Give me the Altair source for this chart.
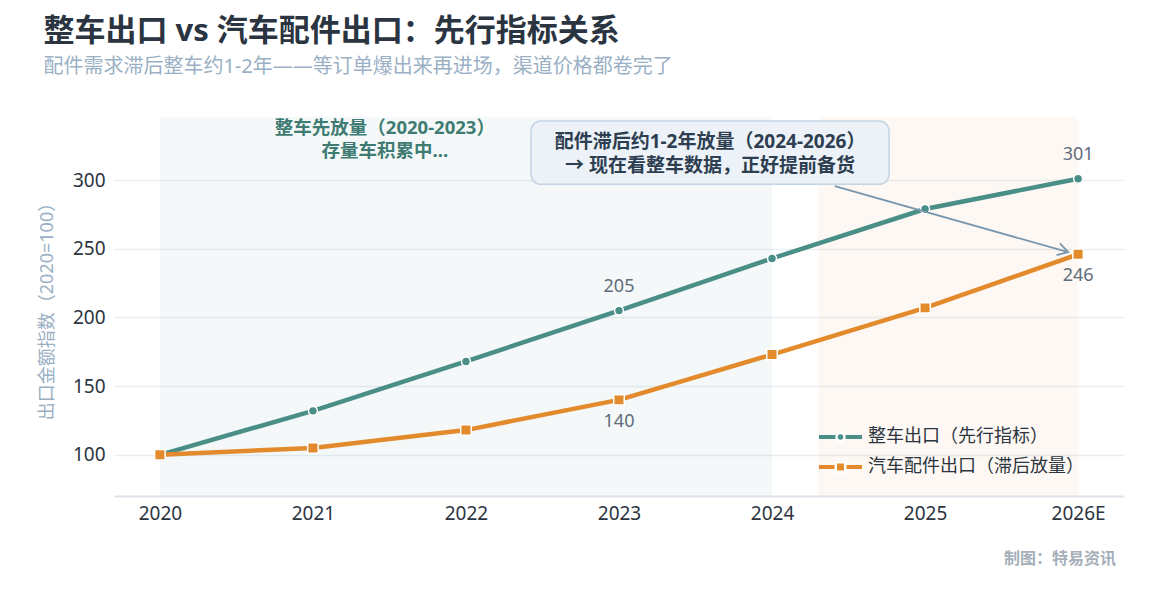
import altair as alt
import pandas as pd

LATIN = "Noto Sans, Noto Sans CJK SC"

# ---- data ----
years = ["2020", "2021", "2022", "2023", "2024", "2025", "2026E"]
vehicle = [100, 132, 168, 205, 243, 279, 301]
parts = [100, 105, 118, 140, 173, 207, 246]
series = ["整车出口（先行指标）", "汽车配件出口（滞后放量）"]
colors = ["#4a8f87", "#e38b2c"]
marker_shapes = ["circle", "square"]
label_idx = [3, 6]

band_start = [0, 4.3]
band_end = [4, 6]
band_color = ["#4a8f87", "#e38b2c"]

note1_text = ["整车先放量（2020-2023）", "存量车积累中..."]
note1_pos = [1.47, 338]
box_x = [2.425, 4.765]
box_y = [297, 343]
note2_text = ["配件滞后约1-2年放量（2024-2026）", "→ 现在看整车数据，正好提前备货"]
note2_pos = [3.595, 328]
arrow_from = [4.41, 295.6]
arrow_to = [5.935, 247.6]
arrow_angle = 16

W, H = 1010, 379
X_DOMAIN = [-0.3, 6.3]
Y_DOMAIN = [70, 346]

xs = alt.Scale(domain=X_DOMAIN, nice=False, zero=False)
ys = alt.Scale(domain=Y_DOMAIN, nice=False, zero=False)

label_expr = "[" + ",".join("'%s'" % y for y in years) + "][datum.value]"

x_axis = alt.Axis(
    values=list(range(len(years))), labelExpr=label_expr, title=None, grid=False,
    ticks=False, domainColor="#dde3ea", domainWidth=2, labelFontSize=19,
    labelColor="#2c3440", labelFont=LATIN, labelPadding=8,
)
y_axis = alt.Axis(
    values=[100, 150, 200, 250, 300], title="出口金额指数（2020=100）",
    titleColor="#9aafc4", titleFontSize=18, titleFontWeight="normal", titleFont=LATIN,
    labelFontSize=19, labelColor="#2c3440", labelFont=LATIN, grid=True,
    gridColor="#e9eef3", gridWidth=1.5, domain=False, ticks=False,
    labelPadding=9, titlePadding=16,
)


def X(f):
    return alt.X(f, scale=xs, axis=x_axis)


def Y(f):
    return alt.Y(f, scale=ys, axis=y_axis)


rows = []
for i, y in enumerate(years):
    rows.append({"i": i, "year": y, "v": vehicle[i], "s": series[0]})
    rows.append({"i": i, "year": y, "v": parts[i], "s": series[1]})
df = pd.DataFrame(rows)
base = alt.Chart(df)

layers = []

# background bands
bands = pd.DataFrame({"s0": band_start, "e0": band_end, "c": band_color})
layers.append(
    alt.Chart(bands).mark_rect(opacity=0.06).encode(
        x=X("s0:Q"), x2="e0:Q", y=alt.value(0), y2=alt.value(H),
        color=alt.Color("c:N", scale=None),
    )
)

sizes = [80, 110]
for k, s in enumerate(series):
    sub = base.transform_filter(alt.datum.s == s)
    layers.append(
        sub.mark_line(strokeWidth=4.5, color=colors[k]).encode(x=X("i:Q"), y=Y("v:Q"))
    )
    layers.append(
        sub.mark_point(shape=marker_shapes[k], filled=True, size=sizes[k], color=colors[k],
                       stroke="white", strokeWidth=1.5, opacity=1).encode(x=X("i:Q"), y=Y("v:Q"))
    )

# value labels
lab = df[df["i"].isin(label_idx)].copy()
lab["txt"] = lab["v"].astype(str)
for k, s in enumerate(series):
    layers.append(
        alt.Chart(lab[lab["s"] == s]).mark_text(
            fontSize=18, color="#5f6d7c", font=LATIN, dy=-24 if k == 0 else 22
        ).encode(x=X("i:Q"), y=Y("v:Q"), text="txt:N")
    )

# annotation 1
layers.append(
    alt.Chart(pd.DataFrame({"x": [note1_pos[0]], "y": [note1_pos[1]], "t": ["\n".join(note1_text)]}))
    .mark_text(fontSize=18.5, fontWeight="bold", color="#3e7b73", font=LATIN,
               lineBreak="\n", lineHeight=23, baseline="middle")
    .encode(x=X("x:Q"), y=Y("y:Q"), text="t:N")
)

# callout box
layers.append(
    alt.Chart(pd.DataFrame({"x": [box_x[0]], "x2": [box_x[1]], "y": [box_y[0]], "y2": [box_y[1]]}))
    .mark_rect(cornerRadius=10, fill="#edf2f8", stroke="#c5d5e4", strokeWidth=1.5)
    .encode(x=X("x:Q"), x2="x2:Q", y=Y("y:Q"), y2="y2:Q")
)
layers.append(
    alt.Chart(pd.DataFrame({"x": [note2_pos[0]], "y": [note2_pos[1]], "t": ["\n".join(note2_text)]}))
    .mark_text(fontSize=19, fontWeight="bold", color="#2c3e50", font=LATIN,
               lineBreak="\n", lineHeight=24, baseline="middle")
    .encode(x=X("x:Q"), y=Y("y:Q"), text="t:N")
)

# arrow
arr = pd.DataFrame({"x": [arrow_from[0]], "y": [arrow_from[1]], "x2": [arrow_to[0]], "y2": [arrow_to[1]]})
layers.append(
    alt.Chart(arr).mark_rule(color="#7896ad", strokeWidth=1.8).encode(
        x=X("x:Q"), x2="x2:Q", y=Y("y:Q"), y2="y2:Q",
    )
)
layers.append(
    alt.Chart(arr).mark_point(shape="M-1,-0.6L0,0L-1,0.6", filled=False, size=420,
                              color="#7896ad", strokeWidth=1.8, angle=arrow_angle, opacity=1).encode(
        x=X("x2:Q"), y=Y("y2:Q"),
    )
)

# legend (drawn inside the plot, bottom right)
LEG_X, LEG_Y, LEG_DY, LEG_W = 705, 320, 30, 43
for k, s in enumerate(series):
    one = alt.Chart(pd.DataFrame({"s": [s]}))
    yy = LEG_Y + k * LEG_DY
    layers.append(
        one.mark_rule(strokeWidth=4, color=colors[k]).encode(
            x=alt.value(LEG_X), x2=alt.value(LEG_X + LEG_W), y=alt.value(yy)
        )
    )
    layers.append(
        one.mark_point(shape=marker_shapes[k], filled=True, size=sizes[k] * 0.8, color=colors[k],
                       stroke="white", strokeWidth=2.5, opacity=1).encode(
            x=alt.value(LEG_X + LEG_W / 2), y=alt.value(yy)
        )
    )
    layers.append(
        one.mark_text(fontSize=18, color="#2c3440", font=LATIN, align="left", baseline="middle").encode(
            x=alt.value(LEG_X + LEG_W + 6), y=alt.value(yy), text="s:N"
        )
    )

# credit
layers.append(
    alt.Chart(pd.DataFrame({"t": ["制图：特易资讯"]})).mark_text(
        fontSize=16, fontWeight="bold", color="#a5afb9", font=LATIN, align="right", baseline="middle"
    ).encode(x=alt.value(W - 8), y=alt.value(H + 63), text="t:N")
)

chart = alt.layer(*layers).properties(
    width=W, height=H,
    padding={"left": 30, "top": 8, "right": 5, "bottom": 5},
    title=alt.Title(
        text="整车出口 vs 汽车配件出口：先行指标关系",
        subtitle="配件需求滞后整车约1-2年——等订单爆出来再进场，渠道价格都卷完了",
        anchor="start", frame="bounds", fontSize=31, fontWeight="bold", color="#2b3441",
        subtitleFontSize=20, subtitleColor="#9ab0c5", subtitlePadding=9, offset=39, dx=5,
        font=LATIN, subtitleFont=LATIN,
    ),
).configure_view(stroke=None)

chart.save("out.html", embed_options={"renderer": "svg", "actions": False})
